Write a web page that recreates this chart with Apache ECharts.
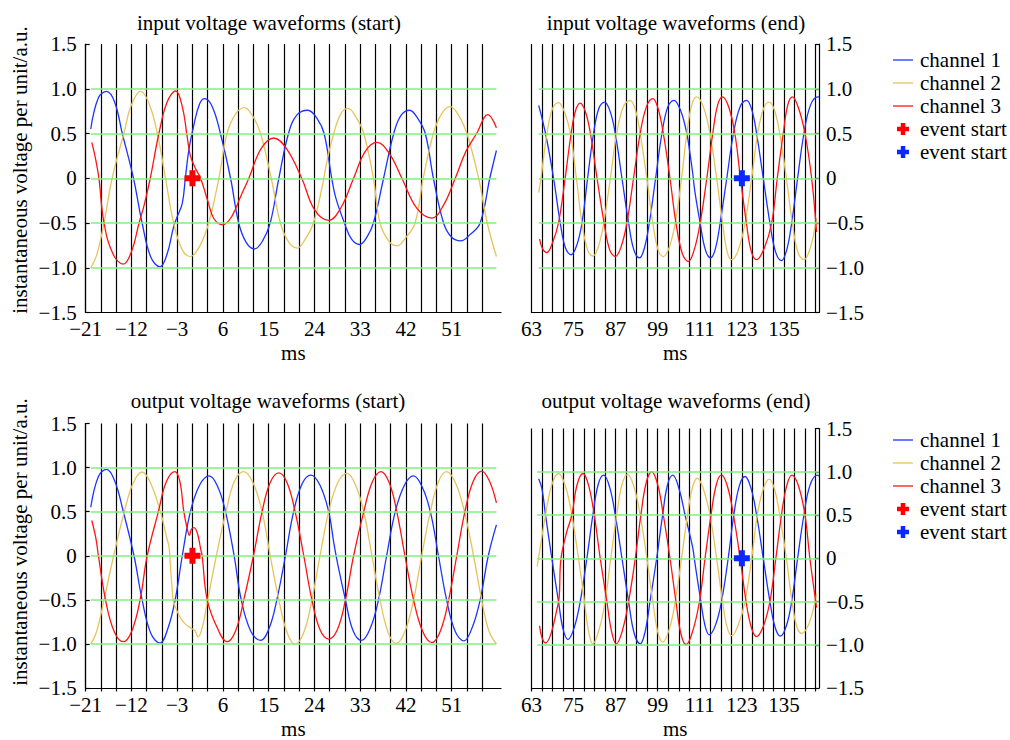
<!DOCTYPE html>
<html>
<head>
<meta charset="utf-8">
<script src="https://cdn.jsdelivr.net/npm/echarts@6/dist/echarts.min.js"></script>
<style>
html,body{margin:0;padding:0;background:#fff;}
#chart{width:1010px;height:740px;}
</style>
</head>
<body>
<div id="chart"></div>
<script>
// ---------- data (time in ms, value in per unit) ----------
const legendLabels = ['channel 1', 'channel 2', 'channel 3', 'event start', 'event start'];
const levels = [-1, -0.5, 0, 0.5, 1];
const yTickValues = [-1.5, -1, -0.5, 0, 0.5, 1, 1.5];

const inStartCh1 = [[-20,0.55],[-18.5,0.9],[-16.9,0.97],[-15.3,0.85],[-13.8,0.5],[-11.6,0],[-9.9,-0.5],[-8.2,-0.88],[-6.4,-0.99],[-5,-0.85],[-3.7,-0.54],[-3,-0.43],[-2,-0.28],[-1.4,0],[-0.7,0.32],[0.3,0.6],[1.4,0.83],[2.4,0.89],[3.9,0.8],[5.5,0.5],[7.5,0],[9.1,-0.5],[10.6,-0.72],[12.2,-0.79],[13.8,-0.7],[15.3,-0.5],[17,0],[18.9,0.5],[20.6,0.71],[22.7,0.76],[24.5,0.67],[25.9,0.5],[27.4,0],[28.2,-0.22],[29.9,-0.5],[31.3,-0.68],[32.9,-0.74],[34.3,-0.66],[35.6,-0.5],[37.6,0],[39.6,0.5],[41,0.7],[42.7,0.76],[44.3,0.67],[45.8,0.5],[47.4,0],[49.4,-0.5],[51,-0.66],[52.8,-0.7],[54.6,-0.63],[56.6,-0.5],[58.5,0],[59.8,0.31]];
const inStartCh2 = [[-20,-1.0],[-18.8,-0.85],[-17.4,-0.5],[-15.8,0],[-13.5,0.5],[-12,0.82],[-10.2,0.97],[-8.5,0.83],[-6.9,0.5],[-5.3,0],[-3.7,-0.5],[-2,-0.8],[-0.4,-0.875],[1.5,-0.75],[3.2,-0.5],[5.2,0],[6.8,0.5],[8.5,0.72],[10.2,0.79],[11.8,0.7],[13.4,0.5],[15.5,0],[17.3,-0.5],[19,-0.72],[20.6,-0.78],[22.2,-0.68],[23.8,-0.5],[25.5,-0.1],[26.5,0.2],[27.8,0.5],[29.2,0.72],[30.6,0.78],[32.2,0.68],[33.7,0.5],[35.6,0],[36.9,-0.5],[38.6,-0.7],[40.2,-0.755],[42,-0.66],[43.8,-0.5],[45.4,0],[47.4,0.5],[49,0.72],[50.7,0.8],[52.4,0.7],[54,0.5],[56.3,0],[58,-0.5],[59.8,-0.875]];
const inStartCh3 = [[-19.8,0.4],[-19,0.2],[-18.4,0],[-17.4,-0.5],[-15.6,-0.85],[-13.6,-0.96],[-12,-0.82],[-10.5,-0.5],[-9.5,-0.3],[-8.3,0],[-6.6,0.5],[-5,0.85],[-3.3,0.975],[-2,0.8],[-1,0.45],[-0.4,0.25],[0.5,0.12],[1.6,0],[3,-0.25],[4.2,-0.45],[6,-0.52],[7.8,-0.42],[9.5,-0.2],[11.1,0],[13.5,0.33],[16,0.45],[18.5,0.33],[21.5,0],[24,-0.35],[26.8,-0.47],[29.2,-0.33],[31.7,0],[34,0.3],[36.3,0.4],[38.8,0.27],[41.2,0],[44.2,-0.34],[47.1,-0.445],[49.4,-0.3],[51.7,0],[53.8,0.3],[55.9,0.5],[58.1,0.71],[59.8,0.565]];

const inEndCh1 = [[65.05,0.815],[67,0.5],[69.3,0],[71.2,-0.5],[72.7,-0.78],[74.3,-0.855],[75.9,-0.75],[77.4,-0.5],[79,0],[80.7,0.5],[82.2,0.78],[83.8,0.85],[85.4,0.75],[86.9,0.5],[88.8,0],[90.7,-0.5],[92.2,-0.8],[93.8,-0.89],[95.2,-0.78],[96.6,-0.5],[98.4,0],[100.2,0.5],[101.9,0.8],[103.6,0.87],[105.5,0.76],[107.3,0.5],[108.3,0.25],[109,0.05],[109.6,-0.15],[111.1,-0.5],[112.6,-0.8],[114.1,-0.89],[115.5,-0.78],[116.8,-0.5],[118.7,0],[120.6,0.5],[122.5,0.8],[124.3,0.87],[125.8,0.77],[127.2,0.5],[129.1,0],[131,-0.5],[132.6,-0.82],[134.3,-0.92],[135.8,-0.8],[137.2,-0.5],[138.9,0],[140.7,0.5],[142.6,0.82],[144.7,0.91],[145,0.91]];
const inEndCh2 = [[65.05,-0.16],[65.7,0],[67.4,0.5],[69,0.78],[70.7,0.845],[72.4,0.74],[74.1,0.5],[75.8,0],[77.4,-0.5],[79,-0.8],[80.5,-0.87],[82.1,-0.76],[83.6,-0.5],[85.5,0],[87.3,0.5],[89.2,0.8],[91.1,0.87],[92.6,0.77],[94,0.5],[95.9,0],[97.6,-0.5],[99.1,-0.8],[100.6,-0.875],[102.3,-0.77],[104,-0.5],[105.8,0],[107.3,0.5],[108.7,0.82],[110.1,0.91],[112,0.8],[113.9,0.5],[115.8,0],[117.5,-0.5],[118.8,-0.82],[120.1,-0.91],[122,-0.8],[123.9,-0.5],[125.8,0],[127.5,0.5],[129.2,0.78],[130.8,0.85],[132.3,0.76],[133.8,0.5],[135.7,0],[137.4,-0.5],[139,-0.83],[140.7,-0.91],[142.5,-0.78],[144.3,-0.445]];
const inEndCh3 = [[65.3,-0.68],[66.2,-0.79],[67.4,-0.83],[69,-0.72],[70.7,-0.5],[72.6,0],[74.3,0.5],[75.6,0.76],[76.9,0.84],[78.4,0.74],[79.8,0.5],[81.7,0],[83.7,-0.5],[85.3,-0.8],[86.9,-0.875],[88.6,-0.76],[90.2,-0.5],[92.1,0],[94,0.5],[95.8,0.8],[97.6,0.89],[99.1,0.78],[100.6,0.5],[102.5,0],[104.2,-0.5],[106,-0.84],[107.7,-0.93],[109.4,-0.8],[111.1,-0.5],[113,0],[114.7,0.5],[116.1,0.82],[117.5,0.91],[119.3,0.79],[121,0.5],[122.6,0],[124.3,-0.5],[125.7,-0.82],[127.2,-0.91],[129.4,-0.78],[131.5,-0.5],[133.1,0],[134.8,0.5],[136.1,0.82],[137.4,0.91],[139.2,0.78],[141,0.5],[142.9,0],[144.3,-0.6]];

const outStartCh1 = [[-20,0.55],[-18.5,0.9],[-16.9,0.98],[-15.3,0.85],[-13.6,0.5],[-11.5,0],[-9.9,-0.5],[-8.2,-0.88],[-6.4,-0.99],[-4.8,-0.82],[-3.4,-0.5],[-2,0],[-0.4,0.5],[1.4,0.8],[3.3,0.905],[5,0.78],[6.5,0.5],[8.2,0],[9.6,-0.5],[11.5,-0.86],[13.4,-0.96],[15.1,-0.82],[16.6,-0.5],[18.3,0],[19.9,0.5],[21.6,0.82],[23.3,0.915],[25.1,0.8],[26.8,0.5],[27.8,0.15],[28.6,-0.1],[30.1,-0.5],[31.6,-0.85],[33.3,-0.96],[35,-0.82],[36.6,-0.5],[38.2,0],[39.9,0.5],[41.7,0.8],[43.5,0.905],[45.2,0.78],[46.8,0.5],[48.4,0],[50,-0.5],[51.7,-0.86],[53.4,-0.965],[55,-0.82],[56.6,-0.5],[58.2,0],[59.8,0.35]];
const outStartCh2 = [[-20,-1.0],[-18.8,-0.85],[-17.4,-0.5],[-15.5,0],[-13.4,0.5],[-11.7,0.82],[-9.9,0.95],[-8.2,0.82],[-6.3,0.5],[-5,0.19],[-4.6,0.1],[-4.3,-0.15],[-4,-0.37],[-3.8,-0.5],[-2.7,-0.67],[-1.5,-0.77],[0,-0.83],[0.5,-0.85],[1.1,-0.92],[2,-0.8],[3,-0.5],[4.7,0],[6.6,0.5],[8.3,0.85],[10.1,0.955],[11.9,0.83],[13.7,0.5],[15.3,0],[17,-0.5],[18.6,-0.87],[20.2,-1.0],[21.9,-0.87],[23.5,-0.5],[25.1,0],[26.8,0.5],[28.6,0.83],[30.4,0.935],[32.1,0.8],[33.7,0.5],[35.3,0],[36.9,-0.5],[38.5,-0.87],[40.1,-0.995],[41.8,-0.86],[43.5,-0.5],[45.1,0],[46.8,0.5],[48.4,0.84],[50,0.955],[51.8,0.82],[53.5,0.5],[55.3,0],[56.9,-0.5],[58.3,-0.85],[59.8,-1.0]];
const outStartCh3 = [[-19.8,0.4],[-19,0.2],[-18.5,0],[-17.1,-0.5],[-15.4,-0.86],[-13.6,-0.975],[-11.9,-0.85],[-10.3,-0.5],[-8.9,0],[-6.7,0.5],[-5.2,0.83],[-3.5,0.955],[-2.5,0.85],[-1.7,0.5],[-1,0.3],[-0.6,0.23],[-0.2,0.3],[0.3,0.32],[1,0.25],[1.6,0.08],[1.9,0],[2.9,-0.5],[4.9,-0.82],[6.8,-0.975],[8.5,-0.85],[10.1,-0.5],[12,0],[13.7,0.5],[15.3,0.83],[17,0.94],[18.6,0.83],[20.2,0.5],[21.9,0],[23.5,-0.5],[25.1,-0.84],[26.8,-0.945],[28.5,-0.84],[30.1,-0.5],[31.7,0],[33.7,0.5],[35.4,0.84],[37.1,0.955],[38.7,0.83],[40.2,0.5],[41.8,0],[43.5,-0.5],[45.3,-0.86],[47.1,-0.985],[48.8,-0.85],[50.4,-0.5],[52,0],[53.6,0.5],[55.2,0.84],[56.9,0.96],[58.4,0.85],[59.8,0.6]];

const outEndCh1 = [[65.05,0.92],[66,0.8],[67,0.5],[68.8,0],[70.7,-0.5],[72,-0.82],[73.4,-0.94],[75.2,-0.8],[76.9,-0.5],[78.8,0],[80.5,0.5],[82,0.85],[83.6,0.96],[85.3,0.82],[86.9,0.5],[88.8,0],[90.7,-0.5],[92.3,-0.87],[94,-0.99],[95.4,-0.85],[96.8,-0.5],[98.7,0],[100.4,0.5],[101.8,0.85],[103.3,0.96],[105.1,0.8],[106.8,0.5],[108,0.3],[109,0.12],[109.6,-0.05],[111.3,-0.5],[112.5,-0.78],[113.7,-0.885],[115.5,-0.77],[117.2,-0.5],[119.1,0],[120.7,0.5],[122.3,0.84],[123.9,0.945],[125.6,0.81],[127.2,0.5],[129.1,0],[131,-0.5],[132.5,-0.8],[134,-0.9],[135.7,-0.78],[137.2,-0.5],[138.9,0],[140.7,0.5],[142.4,0.84],[144.5,0.96],[145,0.95]];
const outEndCh2 = [[64.6,-0.095],[65,0],[67,0.5],[68.8,0.85],[70.7,0.98],[72.7,0.83],[74.5,0.5],[76.4,0],[78.1,-0.5],[79.3,-0.85],[80.5,-0.99],[82.3,-0.82],[84,-0.5],[85.6,0],[87.3,0.5],[88.8,0.85],[90.4,0.97],[92.2,0.83],[94,0.5],[95.9,0],[97.6,-0.5],[99,-0.85],[100.4,-0.97],[102.3,-0.82],[104,-0.5],[105.8,0],[107.5,0.5],[108.9,0.82],[110.3,0.925],[112.1,0.79],[113.9,0.5],[115.8,0],[117.5,-0.5],[118.8,-0.8],[120.1,-0.895],[122,-0.77],[123.9,-0.5],[125.8,0],[127.4,0.5],[129.1,0.8],[130.8,0.915],[132.3,0.8],[133.8,0.5],[135.7,0],[137.3,-0.5],[138.6,-0.78],[140,-0.87],[142.2,-0.75],[144.3,-0.41]];
const outEndCh3 = [[65.3,-0.78],[66,-0.92],[67,-0.98],[68.5,-0.88],[70.2,-0.6],[70.9,-0.45],[71.2,-0.1],[71.6,0.05],[73,0.3],[74.5,0.5],[76,0.85],[77.7,0.98],[79.3,0.84],[80.9,0.5],[82.6,0],[84.5,-0.5],[85.9,-0.86],[87.2,-0.99],[88.9,-0.84],[90.7,-0.5],[92.6,0],[94.2,0.5],[95.7,0.87],[97.3,1.0],[99,0.85],[100.6,0.5],[102.5,0],[104.2,-0.5],[105.6,-0.87],[107.1,-1.0],[109,-0.84],[110.9,-0.5],[112.5,0],[114.2,0.5],[115.7,0.85],[117.2,0.965],[118.9,0.83],[120.6,0.5],[122.5,0],[124.2,-0.5],[125.7,-0.8],[127.2,-0.905],[129.1,-0.79],[131,-0.5],[132.7,0],[134.3,0.5],[135.8,0.84],[137.3,0.96],[139.2,0.83],[141,0.5],[142.4,0],[144.3,-0.57]];

const eventStartRed = [[0, 0]];
const eventStartBlue = [[123, 0]];

// ---------- layout / style ----------
const FONT = '"Liberation Serif", "Times New Roman", serif';
const FS = 21;
const COLORS = { ch1: '#1a35ff', ch2: '#e8c35a', ch3: '#ff1414', green: '#80f080', evRed: '#ff0000', evBlue: '#0a28ff' };
const PLUS = 'path://M5,0H11V5H16V11H11V16H5V11H0V5H5Z';
const seriesNames = ['channel 1', 'channel 2', 'channel 3', 'event start red', 'event start blue'];

const panels = [
  { title: 'input voltage waveforms (start)', titleX: 269, titleY: 12, grid: { left: 85.7, top: 44, width: 415.3, height: 268.5 },
    xMin: -21, xMax: 60.7, lineMax: 57, labelStep: 9, yPos: 'left', curves: [inStartCh1, inStartCh2, inStartCh3], event: eventStartRed, eventName: 'event start red', eventColor: COLORS.evRed },
  { title: 'input voltage waveforms (end)', titleX: 676, titleY: 12, grid: { left: 531.5, top: 44, width: 287.5, height: 268.5 },
    xMin: 63, xMax: 145, lineMax: 144, labelStep: 12, yPos: 'right', curves: [inEndCh1, inEndCh2, inEndCh3], event: eventStartBlue, eventName: 'event start blue', eventColor: COLORS.evBlue },
  { title: 'output voltage waveforms (start)', titleX: 268, titleY: 390, grid: { left: 85.7, top: 423.5, width: 415.3, height: 268 },
    xMin: -21, xMax: 60.7, lineMax: 57, labelStep: 9, yPos: 'left', curves: [outStartCh1, outStartCh2, outStartCh3], event: eventStartRed, eventName: 'event start red', eventColor: COLORS.evRed },
  { title: 'output voltage waveforms (end)', titleX: 676, titleY: 390, grid: { left: 531.5, top: 428.5, width: 287.5, height: 263 },
    xMin: 63, xMax: 145, lineMax: 144, labelStep: 12, yPos: 'right', curves: [outEndCh1, outEndCh2, outEndCh3], event: eventStartBlue, eventName: 'event start blue', eventColor: COLORS.evBlue }
];

function numFmt(v, digits) {
  if (Math.abs(v) < 1e-9) return '0';
  const s = digits ? Math.abs(v).toFixed(digits) : String(Math.abs(v));
  return (v < 0 ? '\u2212' : '') + s;
}

const grids = [], xAxes = [], yAxes = [], titles = [], series = [];
panels.forEach((p, i) => {
  grids.push(Object.assign({ containLabel: false }, p.grid));
  titles.push({ text: p.title, left: p.titleX, top: p.titleY, textAlign: 'center', padding: 0,
    textStyle: { fontFamily: FONT, fontSize: FS, fontWeight: 'normal', color: '#000' } });
  xAxes.push({
    type: 'value', gridIndex: i, min: p.xMin, max: p.xMax, interval: 3,
    name: 'ms', nameLocation: 'middle', nameGap: 30,
    nameTextStyle: { fontFamily: FONT, fontSize: FS, color: '#000' },
    axisLine: { show: true, onZero: false, lineStyle: { color: '#000', width: 1.2 } },
    axisTick: { show: false },
    axisLabel: { show: true, margin: 6, showMinLabel: true, showMaxLabel: true, fontFamily: FONT, fontSize: FS, color: '#000',
      formatter: (v) => (Math.abs(Math.round(v - p.xMin) - (v - p.xMin)) < 1e-6 && Math.round(v - p.xMin) % p.labelStep === 0 && v <= p.lineMax ? numFmt(v) : '') },
    splitLine: { show: false }
  });
  yAxes.push({
    type: 'value', gridIndex: i, position: p.yPos, min: -1.5, max: 1.5, interval: 0.5,
    axisLine: { show: true, onZero: false, lineStyle: { color: '#000', width: 1.2 } },
    axisTick: { show: true, inside: true, length: 4, lineStyle: { color: '#000', width: 1.2 } },
    axisLabel: { margin: p.yPos === 'left' ? 9 : 7, fontFamily: FONT, fontSize: FS, color: '#000',
      formatter: (v) => (yTickValues.some(t => Math.abs(t - v) < 1e-9) ? numFmt(v, 1) : '') },
    splitLine: { show: false }
  });
  // green reference levels spanning the recorded window
  let x0 = Infinity, x1 = -Infinity;
  p.curves.forEach(c => c.forEach(d => { x0 = Math.min(x0, d[0]); x1 = Math.max(x1, d[0]); }));
  series.push({
    type: 'line', name: 'levels' + i, xAxisIndex: i, yAxisIndex: i, data: [], silent: true, z: 1,
    markLine: { silent: true, symbol: ['none', 'none'], label: { show: false }, animation: false,
      lineStyle: { color: COLORS.green, width: 1.6, type: 'solid', opacity: 1 },
      data: levels.map(l => [{ coord: [x0, l] }, { coord: [x1, l] }]) }
  });
  const cols = [COLORS.ch1, COLORS.ch2, COLORS.ch3];
  p.curves.forEach((c, k) => {
    series.push({
      type: 'line', name: seriesNames[k], xAxisIndex: i, yAxisIndex: i, data: c,
      symbol: 'none', smooth: 0.4, z: 3, color: cols[k],
      lineStyle: { color: cols[k], width: 1.3 }
    });
  });
  series.push({
    type: 'scatter', name: p.eventName, xAxisIndex: i, yAxisIndex: i, data: p.event,
    symbol: PLUS, symbolSize: 16, z: 5, itemStyle: { color: p.eventColor, opacity: 1 }
  });
});

// vertical time grid (every 3 ms) drawn on overlay grids that stop at the last grid time
panels.forEach((p, i) => {
  const g = p.grid;
  const w = g.width * (p.lineMax - p.xMin) / (p.xMax - p.xMin);
  grids.push({ left: g.left, top: g.top, width: w, height: g.height, containLabel: false, z: 0 });
  const gi = grids.length - 1;
  xAxes.push({
    type: 'value', gridIndex: gi, min: p.xMin, max: p.lineMax, interval: 3, z: 0,
    axisLine: { show: false }, axisTick: { show: false }, axisLabel: { show: false },
    splitLine: { show: true, showMinLine: true, showMaxLine: true, lineStyle: { color: '#000', width: 1.2 } }
  });
  yAxes.push({
    type: 'value', gridIndex: gi, min: -1.5, max: 1.5, z: 0,
    axisLine: { show: false }, axisTick: { show: false }, axisLabel: { show: false }, splitLine: { show: false }
  });
});

function makeLegend(top) {
  return {
    orient: 'vertical', left: 893, top: top, padding: 0, itemGap: 2, itemWidth: 20, itemHeight: 12,
    selectedMode: false,
    data: seriesNames.map((n, k) => (k < 3 ? { name: n, icon: 'path://M0,0H20V1.3H0Z' } : { name: n, icon: PLUS, itemStyle: { opacity: 1 } })),
    formatter: (n) => legendLabels[seriesNames.indexOf(n)],
    textStyle: { fontFamily: FONT, fontSize: FS, color: '#000', padding: [0, 0, 0, 2] }
  };
}

const chart = echarts.init(document.getElementById('chart'), null, { renderer: 'svg', width: 1010, height: 740 });
chart.setOption({
  animation: false,
  backgroundColor: '#fff',
  title: titles,
  grid: grids,
  xAxis: xAxes,
  yAxis: yAxes,
  legend: [makeLegend(49.5), makeLegend(429.5)],
  graphic: [
    { type: 'text', x: 20, y: 170, rotation: Math.PI / 2,
      style: { text: 'instantaneous voltage per unit/a.u.', font: FS + 'px ' + FONT, fill: '#000', align: 'center', verticalAlign: 'middle', textAlign: 'center', textVerticalAlign: 'middle' } },
    { type: 'text', x: 20, y: 542, rotation: Math.PI / 2,
      style: { text: 'instantaneous voltage per unit/a.u.', font: FS + 'px ' + FONT, fill: '#000', align: 'center', verticalAlign: 'middle', textAlign: 'center', textVerticalAlign: 'middle' } }
  ],
  series: series
});
</script>
</body>
</html>
